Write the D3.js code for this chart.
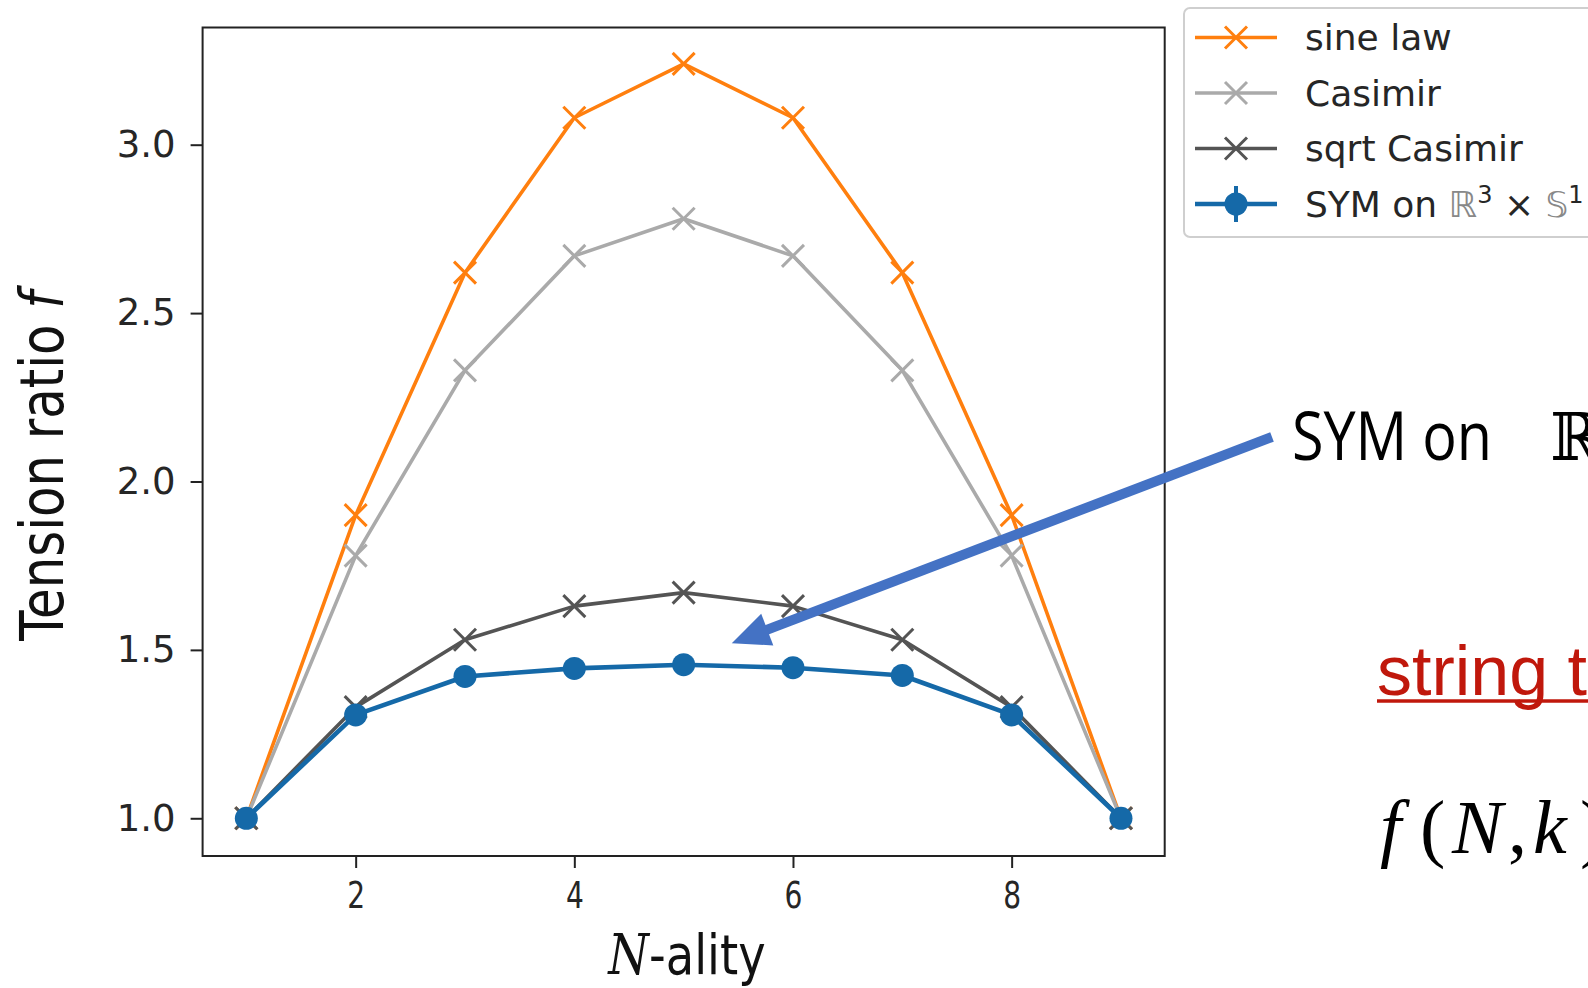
<!DOCTYPE html>
<html>
<head>
<meta charset="utf-8">
<script src="https://cdn.jsdelivr.net/npm/d3@7"></script>
<style>
  html, body { margin: 0; padding: 0; background: #fff; overflow: hidden; }
  svg { display: block; }
</style>
</head>
<body>
<div id="chart"></div>
<script>
// chart values
var nality = [1, 2, 3, 4, 5, 6, 7, 8, 9];
var sineLaw = [1.0, 1.90, 2.62, 3.08, 3.24, 3.08, 2.62, 1.90, 1.0];
var casimir = [1.0, 1.78, 2.33, 2.67, 2.78, 2.67, 2.33, 1.78, 1.0];
var sqrtCasimir = [1.0, 1.33, 1.53, 1.63, 1.67, 1.63, 1.53, 1.33, 1.0];
var symValues = [1.0, 1.307, 1.421, 1.445, 1.456, 1.447, 1.424, 1.307, 1.0];
var xTicks = [2, 4, 6, 8];
var yTicks = [1.0, 1.5, 2.0, 2.5, 3.0];
var seriesNames = ["sine law", "Casimir", "sqrt Casimir", "SYM on"];

var svgWidth = 1588;
var svgHeight = 988;

var svg = d3.select("#chart")
  .append("svg")
  .attr("width", svgWidth)
  .attr("height", svgHeight);

svg.append("rect")
  .attr("width", svgWidth)
  .attr("height", svgHeight)
  .attr("fill", "#fff");

var x = d3.scaleLinear()
  .domain([0.6, 9.4])
  .range([202.6, 1164.7]);

var y = d3.scaleLinear()
  .domain([0.888, 3.348])
  .range([856, 27.5]);

var tickFont = "'DejaVu Sans', sans-serif";
var ink = "#262626";

// axes
var yAxis = svg.append("g")
  .attr("transform", `translate(${x.range()[0]}, 0)`)
  .call(d3.axisLeft(y).tickValues(yTicks).tickFormat(d3.format(".1f")).tickSize(12).tickPadding(15));

var xAxis = svg.append("g")
  .attr("transform", `translate(0, ${y.range()[0]})`)
  .call(d3.axisBottom(x).tickValues(xTicks).tickFormat(d3.format("d")).tickSize(12).tickPadding(13));

[yAxis, xAxis].forEach(g => {
  g.select(".domain").remove();
  g.selectAll("line").attr("stroke", "#222").attr("stroke-width", 2);
  g.selectAll("text")
    .attr("fill", ink)
    .style("font-family", tickFont)
    .style("font-size", "37px");
});
xAxis.selectAll("text")
  .style("font-size", "38px")
  .attr("transform", "scale(0.74,1)");

// series
var line = d3.line()
  .x((d, i) => x(nality[i]))
  .y(d => y(d));

var series = [
  { name: seriesNames[0], values: sineLaw, color: "#ff7f0e", marker: "x", width: 3.6 },
  { name: seriesNames[1], values: casimir, color: "#aaaaaa", marker: "x", width: 3.6 },
  { name: seriesNames[2], values: sqrtCasimir, color: "#545454", marker: "x", width: 3.6 },
  { name: seriesNames[3], values: symValues, color: "#1569a8", marker: "o", width: 4.6 }
];

var xMark = "M-11,-11L11,11M-11,11L11,-11";

series.forEach(s => {
  svg.append("path")
    .datum(s.values)
    .attr("fill", "none")
    .attr("stroke", s.color)
    .attr("stroke-width", s.width)
    .attr("stroke-linejoin", "round")
    .attr("d", line);

  var pts = svg.selectAll(null)
    .data(s.values)
    .enter();

  if (s.marker === "x") {
    pts.append("path")
      .attr("transform", (d, i) => `translate(${x(nality[i])}, ${y(d)})`)
      .attr("d", xMark)
      .attr("stroke", s.color)
      .attr("stroke-width", 3)
      .attr("fill", "none");
  } else {
    pts.append("circle")
      .attr("cx", (d, i) => x(nality[i]))
      .attr("cy", d => y(d))
      .attr("r", 11.5)
      .attr("fill", s.color);
  }
});

// frame
svg.append("rect")
  .attr("x", x.range()[0])
  .attr("y", y.range()[1])
  .attr("width", x.range()[1] - x.range()[0])
  .attr("height", y.range()[0] - y.range()[1])
  .attr("fill", "none")
  .attr("stroke", "#222")
  .attr("stroke-width", 2);

// horizontal factor that squeezes a text to a given width
function squeeze(text, width) {
  var w = text.node().getBBox().width;
  return width / w;
}

// y label
var yLab = svg.append("g");
var yText = yLab.append("text")
  .attr("text-anchor", "middle")
  .attr("fill", "#111")
  .style("font-family", tickFont)
  .style("font-size", "60px");
yText.append("tspan").text("Tension ratio ");
yText.append("tspan").style("font-style", "italic").text("f");
var sy = squeeze(yText, 357);
yLab.attr("transform", `translate(63, 466) rotate(-90) scale(${sy},1)`);

// x label
var xLab = svg.append("g");
var xText = xLab.append("text")
  .attr("text-anchor", "middle")
  .attr("fill", "#111")
  .style("font-family", tickFont)
  .style("font-size", "56px");
xText.append("tspan").style("font-style", "italic").style("font-family", "'DejaVu Serif', serif").text("N");
xText.append("tspan").text("-ality");
var sx = squeeze(xText, 159);
xLab.attr("transform", `translate(687, 974) scale(${sx},1)`);

// legend
var legend = svg.append("g");
legend.append("rect")
  .attr("x", 1184).attr("y", 8)
  .attr("width", 460).attr("height", 229)
  .attr("rx", 6)
  .attr("fill", "#fff")
  .attr("stroke", "#cfcfcf")
  .attr("stroke-width", 2);

var rowY = d3.scalePoint().domain(seriesNames).range([37.5, 204]);

series.forEach(s => {
  var ry = rowY(s.name);
  legend.append("line")
    .attr("x1", 1195).attr("x2", 1277)
    .attr("y1", ry).attr("y2", ry)
    .attr("stroke", s.color).attr("stroke-width", s.width);
  if (s.marker === "x") {
    legend.append("path")
      .attr("transform", `translate(1236, ${ry})`)
      .attr("d", xMark)
      .attr("stroke", s.color).attr("stroke-width", 3);
  } else {
    legend.append("line")
      .attr("x1", 1236).attr("x2", 1236)
      .attr("y1", ry - 18).attr("y2", ry + 18)
      .attr("stroke", s.color).attr("stroke-width", 4);
    legend.append("circle")
      .attr("cx", 1236).attr("cy", ry).attr("r", 11.5)
      .attr("fill", s.color);
  }
  var t = legend.append("text")
    .attr("x", 1305).attr("y", ry + 12.5)
    .attr("fill", ink)
    .style("font-family", tickFont)
    .style("font-size", "36px")
    .text(s.name);
  if (s.marker === "o") {
    t.append("tspan").attr("fill", "#888").text(" \u211D");
    t.append("tspan").attr("dy", -14).style("font-size", "24px").text("3");
    t.append("tspan").attr("dy", 14).text(" \u00D7 ");
    t.append("tspan").attr("fill", "#888").text("\uD835\uDD4A");
    t.append("tspan").attr("dy", -14).style("font-size", "24px").text("1");
  }
});

// slide annotations
var arrowColor = "#4472C4";
var tip = [x(5.44), y(1.52)];
var tail = [1272, 437];
var dx = tail[0] - tip[0], dy = tail[1] - tip[1];
var len = Math.sqrt(dx * dx + dy * dy);
var ux = dx / len, uy = dy / len;
var headLen = 38, headHalf = 17;
var base = [tip[0] + ux * headLen, tip[1] + uy * headLen];
svg.append("line")
  .attr("x1", tail[0]).attr("y1", tail[1])
  .attr("x2", base[0] - ux * 2).attr("y2", base[1] - uy * 2)
  .attr("stroke", arrowColor)
  .attr("stroke-width", 10);
svg.append("path")
  .attr("d", `M${tip[0]},${tip[1]}L${base[0] - uy * headHalf},${base[1] + ux * headHalf}L${base[0] + uy * headHalf},${base[1] - ux * headHalf}Z`)
  .attr("fill", arrowColor);

var symLabel = svg.append("g");
var symText = symLabel.append("text")
  .attr("fill", "#000")
  .style("font-family", "'Open Sans', sans-serif")
  .style("font-size", "67px")
  .text("SYM on");
var ss = squeeze(symText, 200);
symLabel.attr("transform", `translate(1292, 460) scale(${ss},1)`);
svg.append("text")
  .attr("x", 1550).attr("y", 460)
  .attr("fill", "#000")
  .style("font-family", "'DejaVu Serif', serif")
  .style("font-size", "66px")
  .text("\u211D");

var red = "#c0180c";
svg.append("text")
  .attr("x", 1377).attr("y", 695)
  .attr("fill", red)
  .style("font-family", "'Liberation Sans', Arial, sans-serif")
  .style("font-size", "70px")
  .text("string t");
svg.append("line")
  .attr("x1", 1377).attr("x2", 1588)
  .attr("y1", 701).attr("y2", 701)
  .attr("stroke", red).attr("stroke-width", 3.5);

var formula = svg.append("text")
  .attr("y", 853)
  .attr("fill", "#000")
  .style("font-family", "'Liberation Serif', serif")
  .style("font-size", "76px");
[["f", 1380, true], ["(", 1420, false], ["N", 1452, true], [",", 1508, false], ["k", 1533, true], [")", 1580, false]]
  .forEach(p => {
    formula.append("tspan")
      .attr("x", p[1])
      .style("font-style", p[2] ? "italic" : "normal")
      .text(p[0]);
  });
</script>
</body>
</html>
